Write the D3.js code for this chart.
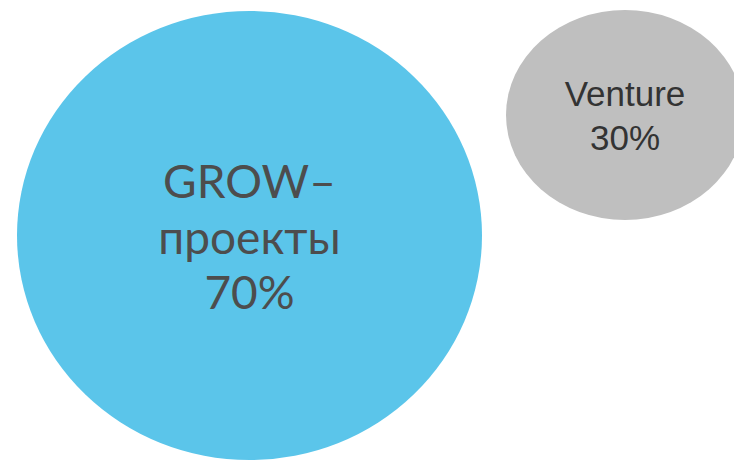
<!DOCTYPE html>
<html lang="ru">
<head>
<meta charset="utf-8">
<title>GROW / Venture</title>
<script src="https://d3js.org/d3.v7.min.js"></script>
<style>
	html, body { margin: 0; padding: 0; background: #fff; }
	svg { display: block; }
</style>
</head>
<body>
<div id="chart"></div>
<script>
	// chart data
	const categories = ["GROW-проекты", "Venture"];
	const shares = [70, 30];
	const labelLines = [["GROW–", "проекты", "70%"], ["Venture", "30%"]];

	const width = 734;
	const height = 461;

	// bubble size scales (horizontal and vertical radius)
	const rxScale = d3.scaleLinear().domain([30, 70]).range([119, 232.5]);
	const ryScale = d3.scaleLinear().domain([30, 70]).range([105, 224.5]);
	const colour = d3.scaleOrdinal().domain(categories).range(["#5bc5ea", "#bfbfbf"]);

	// layout of each bubble
	const centreX = d3.scaleOrdinal().domain(categories).range([249.5, 625]);
	const centreY = d3.scaleOrdinal().domain(categories).range([235.5, 115]);
	const fonts = ["Lato, 'Open Sans', sans-serif", "'Liberation Sans', Arial, sans-serif"];
	const fontSizes = [46, 35];
	const lineGaps = [55.5, 44];
	const textColours = ["#4d4d4d", "#333333"];
	const firstBaseline = [198, 106];

	const svg = d3.select("#chart")
		.append("svg")
		.attr("width", width)
		.attr("height", height);

	const bubble = svg.selectAll("g.bubble")
		.data(categories)
		.enter()
		.append("g")
		.attr("class", "bubble");

	bubble.append("ellipse")
		.attr("cx", function(d) { return centreX(d); })
		.attr("cy", function(d) { return centreY(d); })
		.attr("rx", function(d, i) { return rxScale(shares[i]); })
		.attr("ry", function(d, i) { return ryScale(shares[i]); })
		.attr("fill", function(d) { return colour(d); });

	bubble.each(function(d, i) {
		const g = d3.select(this);
		const txt = g.append("text")
			.attr("text-anchor", "middle")
			.attr("font-family", fonts[i])
			.attr("font-size", fontSizes[i])
			.attr("fill", textColours[i]);
		txt.selectAll("tspan")
			.data(labelLines[i])
			.enter()
			.append("tspan")
			.attr("x", centreX(d))
			.attr("y", function(line, j) { return firstBaseline[i] + j * lineGaps[i]; })
			.text(function(line) { return line; });
	});
</script>
</body>
</html>
